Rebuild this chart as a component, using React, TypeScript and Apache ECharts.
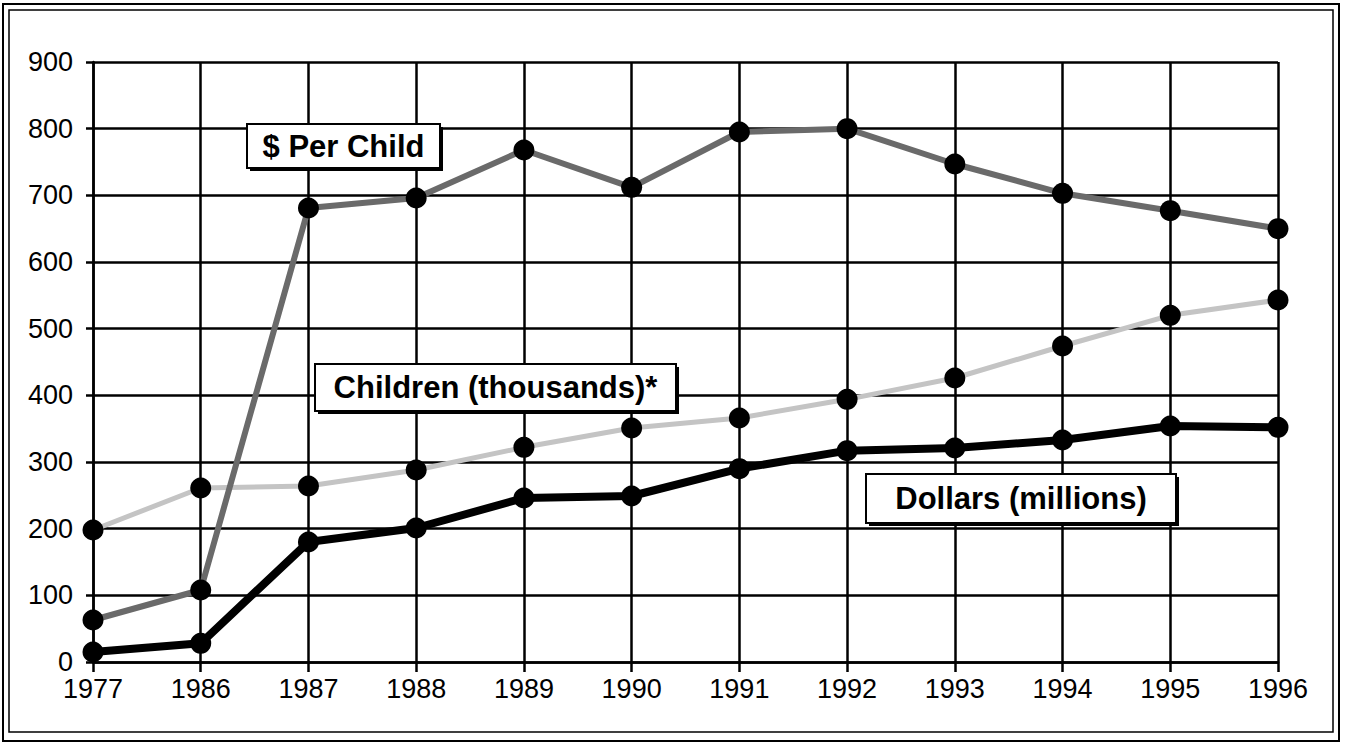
import React, { useEffect, useRef } from "react";
import * as echarts from "echarts";

const years = ["1977", "1986", "1987", "1988", "1989", "1990", "1991", "1992", "1993", "1994", "1995", "1996"];
const perChild = [63, 108, 681, 696, 768, 712, 795, 800, 747, 703, 677, 650];
const children = [198, 261, 264, 288, 322, 351, 366, 394, 426, 474, 520, 543];
const dollars = [15, 28, 180, 201, 246, 249, 290, 317, 321, 333, 354, 352];

const FONT = "'Liberation Sans', Arial, sans-serif";

function labelBox(x: number, y: number, w: number, h: number, text: string) {
  return {
    type: "group",
    children: [
      { type: "rect", shape: { x: x + 3, y: y + 3, width: w, height: h }, style: { fill: "#000" }, z: 100 },
      { type: "rect", shape: { x, y, width: w, height: h }, style: { fill: "#fff", stroke: "#000", lineWidth: 2 }, z: 101 },
      {
        type: "text",
        x: x + w / 2,
        y: y + h / 2,
        style: { text, fill: "#000", font: `bold 31px ${FONT}`, align: "center", verticalAlign: "middle" },
        z: 102,
      },
    ],
  };
}

export default function App() {
  const ref = useRef<HTMLDivElement>(null);
  useEffect(() => {
    document.body.style.margin = "0";
    const chart = echarts.init(ref.current!, undefined, { renderer: "svg" });
    const lineSeries = (name: string, data: number[], color: string, width: number, z: number) => ({
      name,
      type: "line",
      data,
      z,
      symbol: "circle",
      symbolSize: 21,
      itemStyle: { color: "#000" },
      lineStyle: { color, width },
    });
    chart.setOption({
      animation: false,
      backgroundColor: "#fff",
      grid: { left: 93, right: 67, top: 62, bottom: 82 },
      xAxis: {
        type: "category",
        data: years,
        boundaryGap: false,
        axisLine: { show: true, lineStyle: { color: "#000", width: 2.5 } },
        axisTick: { show: true, length: 10, lineStyle: { color: "#000", width: 2.5 } },
        splitLine: { show: true, lineStyle: { color: "#000", width: 2.5 } },
        axisLabel: { color: "#000", fontFamily: FONT, fontSize: 27, margin: 13 },
      },
      yAxis: {
        type: "value",
        min: 0,
        max: 900,
        interval: 100,
        axisLine: { show: true, lineStyle: { color: "#000", width: 2.5 } },
        axisTick: { show: true, length: 7, lineStyle: { color: "#000", width: 2.5 } },
        splitLine: { show: true, lineStyle: { color: "#000", width: 2.5 } },
        axisLabel: { color: "#000", fontFamily: FONT, fontSize: 27, margin: 20 },
      },
      series: [
        lineSeries("Children (thousands)*", children, "#c4c4c4", 5, 2),
        lineSeries("$ Per Child", perChild, "#6a6a6a", 6, 3),
        lineSeries("Dollars (millions)", dollars, "#000", 8, 4),
      ],
      graphic: [
        { type: "rect", shape: { x: 3, y: 4, width: 1336, height: 737 }, style: { fill: "none", stroke: "#000", lineWidth: 2 }, z: 50 },
        { type: "rect", shape: { x: 9, y: 10, width: 1324, height: 722 }, style: { fill: "none", stroke: "#000", lineWidth: 1.5 }, z: 50 },
        labelBox(247, 124, 193, 44, "$ Per Child"),
        labelBox(315, 364, 361, 47, "Children (thousands)*"),
        labelBox(866, 474, 310, 49, "Dollars (millions)"),
      ],
    });
    return () => chart.dispose();
  }, []);
  return <div ref={ref} style={{ width: 1345, height: 744 }} />;
}
